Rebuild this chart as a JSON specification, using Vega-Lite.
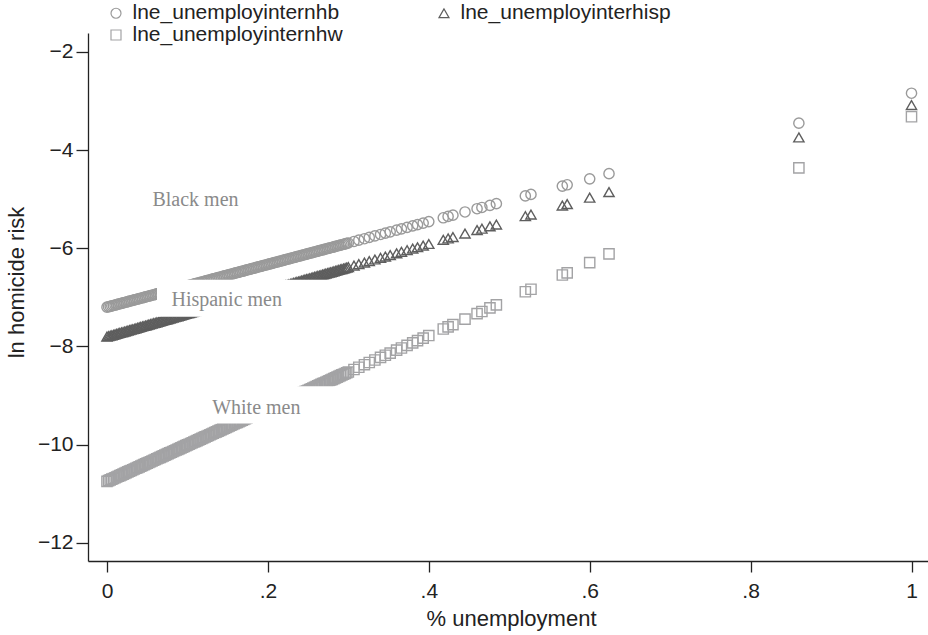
{
"$schema": "https://vega.github.io/schema/vega-lite/v6.json",
"width": 840, "height": 528,
"autosize": {"type": "none"},
"padding": {"left": 88, "top": 33, "right": 0, "bottom": 74},
"background": "white",
"config": {"view": {"stroke": null}, "font": "Liberation Sans"},
"datasets": {
"pts": [
{"x":0,"hb":-7.2,"hisp":-7.8,"hw":-10.75},
{"x":0.002,"hb":-7.191,"hisp":-7.791,"hw":-10.735},
{"x":0.004,"hb":-7.183,"hisp":-7.781,"hw":-10.72},
{"x":0.006,"hb":-7.174,"hisp":-7.772,"hw":-10.705},
{"x":0.008,"hb":-7.165,"hisp":-7.762,"hw":-10.691},
{"x":0.01,"hb":-7.156,"hisp":-7.753,"hw":-10.676},
{"x":0.012,"hb":-7.148,"hisp":-7.743,"hw":-10.661},
{"x":0.014,"hb":-7.139,"hisp":-7.734,"hw":-10.646},
{"x":0.016,"hb":-7.13,"hisp":-7.724,"hw":-10.631},
{"x":0.018,"hb":-7.122,"hisp":-7.715,"hw":-10.616},
{"x":0.02,"hb":-7.113,"hisp":-7.706,"hw":-10.601},
{"x":0.022,"hb":-7.104,"hisp":-7.696,"hw":-10.587},
{"x":0.024,"hb":-7.095,"hisp":-7.687,"hw":-10.572},
{"x":0.026,"hb":-7.087,"hisp":-7.677,"hw":-10.557},
{"x":0.028,"hb":-7.078,"hisp":-7.668,"hw":-10.542},
{"x":0.03,"hb":-7.069,"hisp":-7.658,"hw":-10.527},
{"x":0.032,"hb":-7.06,"hisp":-7.649,"hw":-10.512},
{"x":0.034,"hb":-7.052,"hisp":-7.64,"hw":-10.497},
{"x":0.036,"hb":-7.043,"hisp":-7.63,"hw":-10.483},
{"x":0.038,"hb":-7.034,"hisp":-7.621,"hw":-10.468},
{"x":0.04,"hb":-7.026,"hisp":-7.611,"hw":-10.453},
{"x":0.042,"hb":-7.017,"hisp":-7.602,"hw":-10.438},
{"x":0.044,"hb":-7.008,"hisp":-7.592,"hw":-10.423},
{"x":0.046,"hb":-6.999,"hisp":-7.583,"hw":-10.408},
{"x":0.048,"hb":-6.991,"hisp":-7.573,"hw":-10.393},
{"x":0.05,"hb":-6.982,"hisp":-7.564,"hw":-10.379},
{"x":0.052,"hb":-6.973,"hisp":-7.555,"hw":-10.364},
{"x":0.054,"hb":-6.965,"hisp":-7.545,"hw":-10.349},
{"x":0.056,"hb":-6.956,"hisp":-7.536,"hw":-10.334},
{"x":0.058,"hb":-6.947,"hisp":-7.526,"hw":-10.319},
{"x":0.06,"hb":-6.938,"hisp":-7.517,"hw":-10.304},
{"x":0.062,"hb":-6.93,"hisp":-7.507,"hw":-10.289},
{"x":0.064,"hb":-6.921,"hisp":-7.498,"hw":-10.274},
{"x":0.066,"hb":-6.912,"hisp":-7.488,"hw":-10.26},
{"x":0.068,"hb":-6.904,"hisp":-7.479,"hw":-10.245},
{"x":0.07,"hb":-6.895,"hisp":-7.47,"hw":-10.23},
{"x":0.072,"hb":-6.886,"hisp":-7.46,"hw":-10.215},
{"x":0.074,"hb":-6.877,"hisp":-7.451,"hw":-10.2},
{"x":0.076,"hb":-6.869,"hisp":-7.441,"hw":-10.185},
{"x":0.078,"hb":-6.86,"hisp":-7.432,"hw":-10.17},
{"x":0.08,"hb":-6.851,"hisp":-7.422,"hw":-10.156},
{"x":0.082,"hb":-6.842,"hisp":-7.413,"hw":-10.141},
{"x":0.084,"hb":-6.834,"hisp":-7.404,"hw":-10.126},
{"x":0.086,"hb":-6.825,"hisp":-7.394,"hw":-10.111},
{"x":0.088,"hb":-6.816,"hisp":-7.385,"hw":-10.096},
{"x":0.09,"hb":-6.808,"hisp":-7.375,"hw":-10.081},
{"x":0.092,"hb":-6.799,"hisp":-7.366,"hw":-10.066},
{"x":0.094,"hb":-6.79,"hisp":-7.356,"hw":-10.052},
{"x":0.096,"hb":-6.781,"hisp":-7.347,"hw":-10.037},
{"x":0.098,"hb":-6.773,"hisp":-7.337,"hw":-10.022},
{"x":0.1,"hb":-6.764,"hisp":-7.328,"hw":-10.007},
{"x":0.102,"hb":-6.755,"hisp":-7.319,"hw":-9.992},
{"x":0.104,"hb":-6.747,"hisp":-7.309,"hw":-9.977},
{"x":0.106,"hb":-6.738,"hisp":-7.3,"hw":-9.962},
{"x":0.108,"hb":-6.729,"hisp":-7.29,"hw":-9.948},
{"x":0.11,"hb":-6.72,"hisp":-7.281,"hw":-9.933},
{"x":0.112,"hb":-6.712,"hisp":-7.271,"hw":-9.918},
{"x":0.114,"hb":-6.703,"hisp":-7.262,"hw":-9.903},
{"x":0.116,"hb":-6.694,"hisp":-7.252,"hw":-9.888},
{"x":0.118,"hb":-6.686,"hisp":-7.243,"hw":-9.873},
{"x":0.12,"hb":-6.677,"hisp":-7.234,"hw":-9.858},
{"x":0.122,"hb":-6.668,"hisp":-7.224,"hw":-9.844},
{"x":0.124,"hb":-6.659,"hisp":-7.215,"hw":-9.829},
{"x":0.126,"hb":-6.651,"hisp":-7.205,"hw":-9.814},
{"x":0.128,"hb":-6.642,"hisp":-7.196,"hw":-9.799},
{"x":0.13,"hb":-6.633,"hisp":-7.186,"hw":-9.784},
{"x":0.132,"hb":-6.624,"hisp":-7.177,"hw":-9.769},
{"x":0.134,"hb":-6.616,"hisp":-7.168,"hw":-9.754},
{"x":0.136,"hb":-6.607,"hisp":-7.158,"hw":-9.74},
{"x":0.138,"hb":-6.598,"hisp":-7.149,"hw":-9.725},
{"x":0.14,"hb":-6.59,"hisp":-7.139,"hw":-9.71},
{"x":0.142,"hb":-6.581,"hisp":-7.13,"hw":-9.695},
{"x":0.144,"hb":-6.572,"hisp":-7.12,"hw":-9.68},
{"x":0.146,"hb":-6.563,"hisp":-7.111,"hw":-9.665},
{"x":0.148,"hb":-6.555,"hisp":-7.101,"hw":-9.65},
{"x":0.15,"hb":-6.546,"hisp":-7.092,"hw":-9.636},
{"x":0.152,"hb":-6.537,"hisp":-7.083,"hw":-9.621},
{"x":0.154,"hb":-6.529,"hisp":-7.073,"hw":-9.606},
{"x":0.156,"hb":-6.52,"hisp":-7.064,"hw":-9.591},
{"x":0.158,"hb":-6.511,"hisp":-7.054,"hw":-9.576},
{"x":0.16,"hb":-6.502,"hisp":-7.045,"hw":-9.561},
{"x":0.162,"hb":-6.494,"hisp":-7.035,"hw":-9.546},
{"x":0.164,"hb":-6.485,"hisp":-7.026,"hw":-9.531},
{"x":0.166,"hb":-6.476,"hisp":-7.016,"hw":-9.517},
{"x":0.168,"hb":-6.468,"hisp":-7.007,"hw":-9.502},
{"x":0.17,"hb":-6.459,"hisp":-6.998,"hw":-9.487},
{"x":0.172,"hb":-6.45,"hisp":-6.988,"hw":-9.472},
{"x":0.174,"hb":-6.441,"hisp":-6.979,"hw":-9.457},
{"x":0.176,"hb":-6.433,"hisp":-6.969,"hw":-9.442},
{"x":0.178,"hb":-6.424,"hisp":-6.96,"hw":-9.427},
{"x":0.18,"hb":-6.415,"hisp":-6.95,"hw":-9.413},
{"x":0.182,"hb":-6.406,"hisp":-6.941,"hw":-9.398},
{"x":0.184,"hb":-6.398,"hisp":-6.932,"hw":-9.383},
{"x":0.186,"hb":-6.389,"hisp":-6.922,"hw":-9.368},
{"x":0.188,"hb":-6.38,"hisp":-6.913,"hw":-9.353},
{"x":0.19,"hb":-6.372,"hisp":-6.903,"hw":-9.338},
{"x":0.192,"hb":-6.363,"hisp":-6.894,"hw":-9.323},
{"x":0.194,"hb":-6.354,"hisp":-6.884,"hw":-9.309},
{"x":0.196,"hb":-6.345,"hisp":-6.875,"hw":-9.294},
{"x":0.198,"hb":-6.337,"hisp":-6.865,"hw":-9.279},
{"x":0.2,"hb":-6.328,"hisp":-6.856,"hw":-9.264},
{"x":0.202,"hb":-6.319,"hisp":-6.847,"hw":-9.249},
{"x":0.204,"hb":-6.311,"hisp":-6.837,"hw":-9.234},
{"x":0.206,"hb":-6.302,"hisp":-6.828,"hw":-9.219},
{"x":0.208,"hb":-6.293,"hisp":-6.818,"hw":-9.205},
{"x":0.21,"hb":-6.284,"hisp":-6.809,"hw":-9.19},
{"x":0.212,"hb":-6.276,"hisp":-6.799,"hw":-9.175},
{"x":0.214,"hb":-6.267,"hisp":-6.79,"hw":-9.16},
{"x":0.216,"hb":-6.258,"hisp":-6.78,"hw":-9.145},
{"x":0.218,"hb":-6.25,"hisp":-6.771,"hw":-9.13},
{"x":0.22,"hb":-6.241,"hisp":-6.762,"hw":-9.115},
{"x":0.222,"hb":-6.232,"hisp":-6.752,"hw":-9.101},
{"x":0.224,"hb":-6.223,"hisp":-6.743,"hw":-9.086},
{"x":0.226,"hb":-6.215,"hisp":-6.733,"hw":-9.071},
{"x":0.228,"hb":-6.206,"hisp":-6.724,"hw":-9.056},
{"x":0.23,"hb":-6.197,"hisp":-6.714,"hw":-9.041},
{"x":0.232,"hb":-6.188,"hisp":-6.705,"hw":-9.026},
{"x":0.234,"hb":-6.18,"hisp":-6.696,"hw":-9.011},
{"x":0.236,"hb":-6.171,"hisp":-6.686,"hw":-8.997},
{"x":0.238,"hb":-6.162,"hisp":-6.677,"hw":-8.982},
{"x":0.24,"hb":-6.154,"hisp":-6.667,"hw":-8.967},
{"x":0.242,"hb":-6.145,"hisp":-6.658,"hw":-8.952},
{"x":0.244,"hb":-6.136,"hisp":-6.648,"hw":-8.937},
{"x":0.246,"hb":-6.127,"hisp":-6.639,"hw":-8.922},
{"x":0.248,"hb":-6.119,"hisp":-6.629,"hw":-8.907},
{"x":0.25,"hb":-6.11,"hisp":-6.62,"hw":-8.893},
{"x":0.252,"hb":-6.101,"hisp":-6.611,"hw":-8.878},
{"x":0.254,"hb":-6.093,"hisp":-6.601,"hw":-8.863},
{"x":0.256,"hb":-6.084,"hisp":-6.592,"hw":-8.848},
{"x":0.258,"hb":-6.075,"hisp":-6.582,"hw":-8.833},
{"x":0.26,"hb":-6.066,"hisp":-6.573,"hw":-8.818},
{"x":0.262,"hb":-6.058,"hisp":-6.563,"hw":-8.803},
{"x":0.264,"hb":-6.049,"hisp":-6.554,"hw":-8.788},
{"x":0.266,"hb":-6.04,"hisp":-6.544,"hw":-8.774},
{"x":0.268,"hb":-6.032,"hisp":-6.535,"hw":-8.759},
{"x":0.27,"hb":-6.023,"hisp":-6.526,"hw":-8.744},
{"x":0.272,"hb":-6.014,"hisp":-6.516,"hw":-8.729},
{"x":0.274,"hb":-6.005,"hisp":-6.507,"hw":-8.714},
{"x":0.276,"hb":-5.997,"hisp":-6.497,"hw":-8.699},
{"x":0.278,"hb":-5.988,"hisp":-6.488,"hw":-8.684},
{"x":0.28,"hb":-5.979,"hisp":-6.478,"hw":-8.67},
{"x":0.282,"hb":-5.97,"hisp":-6.469,"hw":-8.655},
{"x":0.284,"hb":-5.962,"hisp":-6.46,"hw":-8.64},
{"x":0.286,"hb":-5.953,"hisp":-6.45,"hw":-8.625},
{"x":0.288,"hb":-5.944,"hisp":-6.441,"hw":-8.61},
{"x":0.29,"hb":-5.936,"hisp":-6.431,"hw":-8.595},
{"x":0.292,"hb":-5.927,"hisp":-6.422,"hw":-8.58},
{"x":0.294,"hb":-5.918,"hisp":-6.412,"hw":-8.566},
{"x":0.296,"hb":-5.909,"hisp":-6.403,"hw":-8.551},
{"x":0.298,"hb":-5.901,"hisp":-6.393,"hw":-8.536},
{"x":0.3,"hb":-5.892,"hisp":-6.384,"hw":-8.521},
{"x":0.307,"hb":-5.861,"hisp":-6.351,"hw":-8.469},
{"x":0.313,"hb":-5.835,"hisp":-6.323,"hw":-8.424},
{"x":0.32,"hb":-5.805,"hisp":-6.29,"hw":-8.372},
{"x":0.326,"hb":-5.779,"hisp":-6.261,"hw":-8.328},
{"x":0.333,"hb":-5.748,"hisp":-6.228,"hw":-8.276},
{"x":0.34,"hb":-5.718,"hisp":-6.195,"hw":-8.224},
{"x":0.346,"hb":-5.691,"hisp":-6.167,"hw":-8.179},
{"x":0.352,"hb":-5.665,"hisp":-6.139,"hw":-8.135},
{"x":0.36,"hb":-5.63,"hisp":-6.101,"hw":-8.075},
{"x":0.366,"hb":-5.604,"hisp":-6.072,"hw":-8.031},
{"x":0.373,"hb":-5.574,"hisp":-6.039,"hw":-7.979},
{"x":0.38,"hb":-5.543,"hisp":-6.006,"hw":-7.927},
{"x":0.386,"hb":-5.517,"hisp":-5.978,"hw":-7.882},
{"x":0.393,"hb":-5.487,"hisp":-5.945,"hw":-7.83},
{"x":0.4,"hb":-5.456,"hisp":-5.912,"hw":-7.778},
{"x":0.418,"hb":-5.378,"hisp":-5.827,"hw":-7.644},
{"x":0.424,"hb":-5.351,"hisp":-5.799,"hw":-7.6},
{"x":0.43,"hb":-5.325,"hisp":-5.77,"hw":-7.555},
{"x":0.445,"hb":-5.26,"hisp":-5.7,"hw":-7.444},
{"x":0.46,"hb":-5.194,"hisp":-5.629,"hw":-7.332},
{"x":0.466,"hb":-5.168,"hisp":-5.6,"hw":-7.288},
{"x":0.476,"hb":-5.125,"hisp":-5.553,"hw":-7.213},
{"x":0.484,"hb":-5.09,"hisp":-5.516,"hw":-7.154},
{"x":0.52,"hb":-4.933,"hisp":-5.346,"hw":-6.886},
{"x":0.527,"hb":-4.902,"hisp":-5.313,"hw":-6.834},
{"x":0.566,"hb":-4.732,"hisp":-5.128,"hw":-6.545},
{"x":0.572,"hb":-4.706,"hisp":-5.1,"hw":-6.5},
{"x":0.6,"hb":-4.584,"hisp":-4.968,"hw":-6.292},
{"x":0.624,"hb":-4.479,"hisp":-4.855,"hw":-6.114},
{"x":0.86,"hb":-3.45,"hisp":-3.741,"hw":-4.36},
{"x":1,"hb":-2.84,"hisp":-3.08,"hw":-3.32}
],
"labels": [
{"label":"Black men","x":0.11,"y":-5.011},
{"label":"Hispanic men","x":0.1488,"y":-7.046},
{"label":"White men","x":0.1856,"y":-9.249}
]
},
"layer": [
{
"data": {"name": "pts"},
"transform": [{"fold": ["hb","hisp","hw"], "as": ["series","value"]}],
"mark": {"type": "point", "filled": false, "strokeWidth": 1.4, "opacity": 1, "size": 105},
"encoding": {
"x": {"field": "x", "type": "quantitative",
 "scale": {"domain": [-0.0236, 1.0205], "nice": false, "zero": false},
 "axis": {"values": [0,0.2,0.4,0.6,0.8,1],
  "labelExpr": "datum.value == 0 ? '0' : datum.value == 1 ? '1' : replace(format(datum.value, '.1f'), '0.', '.')",
  "grid": false, "tickSize": 11, "tickWidth": 1.3, "domainWidth": 1.3, "domainColor": "#222", "tickColor": "#222",
  "labelFontSize": 21, "labelColor": "#222", "labelPadding": 8, "labelFont": "Liberation Sans", "labelFlush": false, "labelOverlap": false,
  "title": "% unemployment", "titleFontSize": 22, "titleFontWeight": "normal", "titleColor": "#222", "titleFont": "Liberation Sans",
  "titleX": 423, "titleY": 64, "titleBaseline": "alphabetic", "titleAlign": "center"}},
"y": {"field": "value", "type": "quantitative",
 "scale": {"domain": [-12.372, -1.613], "nice": false, "zero": false},
 "axis": {"values": [-12,-10,-8,-6,-4,-2], "format": "d",
  "grid": false, "tickSize": 12, "tickWidth": 1.3, "domainWidth": 1.3, "domainColor": "#222", "tickColor": "#222",
  "labelFontSize": 21, "labelColor": "#222", "labelPadding": 3, "labelFont": "Liberation Sans", "labelFlush": false, "labelOverlap": false,
  "title": "ln homicide risk", "titleFontSize": 22, "titleFontWeight": "normal", "titleColor": "#222", "titleFont": "Liberation Sans",
  "titleX": -65, "titleY": 249, "titleAngle": -90, "titleBaseline": "alphabetic", "titleAlign": "center"}},
"color": {"field": "series", "type": "nominal",
 "scale": {"domain": ["hb","hw","hisp"], "range": ["#9a9a9a","#a3a3a5","#5e5e5e"]},
 "legend": {"orient": "none", "legendX": 17.5, "legendY": -30.5, "title": null, "columns": 2, "columnPadding": 90, "rowPadding": 0,
  "labelFontSize": 21, "labelLimit": 400, "labelOffset": 6, "symbolSize": 100, "symbolStrokeWidth": 1.2, "labelColor": "#222", "labelFont": "Liberation Sans",
  "labelExpr": "datum.label == 'hb' ? 'lne_unemployinternhb' : datum.label == 'hw' ? 'lne_unemployinternhw' : 'lne_unemployinterhisp'"}},
"shape": {"field": "series", "type": "nominal",
 "scale": {"domain": ["hb","hw","hisp"], "range": ["circle","square","triangle-up"]},
 "legend": {"orient": "none", "legendX": 17.5, "legendY": -30.5, "title": null, "columns": 2, "columnPadding": 90, "rowPadding": 0,
  "labelFontSize": 21, "labelLimit": 400, "labelOffset": 6, "symbolSize": 100, "symbolStrokeWidth": 1.2, "labelColor": "#222", "labelFont": "Liberation Sans",
  "labelExpr": "datum.label == 'hb' ? 'lne_unemployinternhb' : datum.label == 'hw' ? 'lne_unemployinternhw' : 'lne_unemployinterhisp'"}}
}
},
{
"data": {"name": "labels"},
"transform": [{"filter": "datum.label == 'Black men'"}],
"mark": {"type": "point", "filled": true, "fill": "white", "opacity": 1, "strokeWidth": 0, "size": 400, "shape": "M-5.75,-2H9.25V1.6H-5.75Z"},
"encoding": {"x": {"field": "x", "type": "quantitative"}, "y": {"field": "y", "type": "quantitative"}}
},
{
"data": {"name": "labels"},
"transform": [{"filter": "datum.label == 'Hispanic men'"}],
"mark": {"type": "point", "filled": true, "fill": "white", "opacity": 1, "strokeWidth": 0, "size": 400, "shape": "M-6.97,-2H10.33V1.7H-6.97Z"},
"encoding": {"x": {"field": "x", "type": "quantitative"}, "y": {"field": "y", "type": "quantitative"}}
},
{
"data": {"name": "labels"},
"transform": [{"filter": "datum.label == 'White men'"}],
"mark": {"type": "point", "filled": true, "fill": "white", "opacity": 1, "strokeWidth": 0, "size": 400, "shape": "M-5.83,-2.16H9.37V1.57H-5.83Z"},
"encoding": {"x": {"field": "x", "type": "quantitative"}, "y": {"field": "y", "type": "quantitative"}}
},
{
"data": {"name": "labels"},
"mark": {"type": "text", "font": "Liberation Serif", "fontSize": 20, "color": "#8a8a8a", "align": "center", "baseline": "middle"},
"encoding": {"x": {"field": "x", "type": "quantitative"}, "y": {"field": "y", "type": "quantitative"}, "text": {"field": "label"}}
}
]
}
